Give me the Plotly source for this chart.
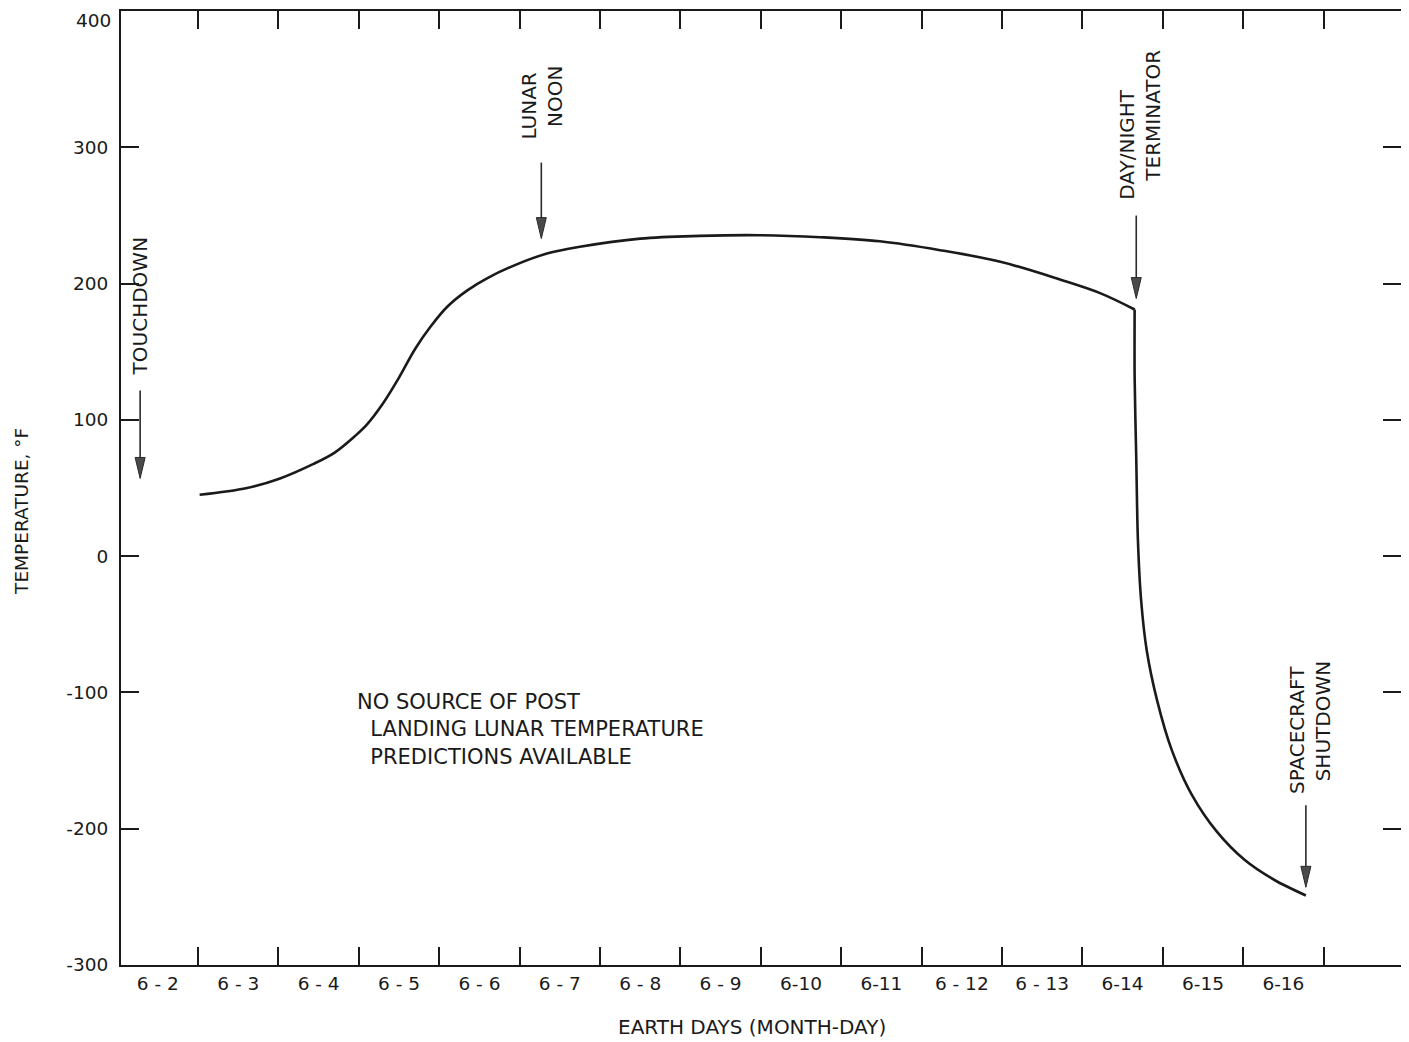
import plotly.graph_objects as go

# ---------------- data ----------------
# x = day of June (label "6-d" spans [d, d+1)), y = temperature in deg F
day_phase_days = [3.02, 3.61, 4.02, 4.43, 4.70, 4.95, 5.10, 5.30, 5.50, 5.70, 5.90, 6.10,
                  6.35, 6.60, 6.92, 7.34, 7.75, 8.50, 9.24, 9.99, 10.74, 11.48, 12.23,
                  12.98, 13.72, 14.22, 14.65]
day_phase_temps = [45, 50, 57, 67.5, 76, 88, 96.5, 112, 131, 152, 169, 183,
                   195, 204, 213, 222, 227, 233, 235, 235.5, 234, 231, 224.5,
                   216, 203, 193, 181]

night_phase_days = [14.65, 14.65, 14.67, 14.69, 14.73, 14.80, 14.93, 15.11, 15.36,
                    15.67, 16.02, 16.40, 16.78]
night_phase_temps = [181, 131, 72, 13, -32, -69, -106, -142, -175,
                     -202, -223, -238, -249]

day_tick_positions = list(range(3, 18))
day_label_positions = [d + 0.5 for d in range(2, 17)]
day_labels = ["6 - 2", "6 - 3", "6 - 4", "6 - 5", "6 - 6", "6 - 7", "6 - 8", "6 - 9",
              "6-10", "6-11", "6 - 12", "6 - 13", "6-14", "6-15", "6-16"]

temp_ticks = [-300, -200, -100, 0, 100, 200, 300, 400]
temp_labels = ["-300", "-200", "-100", "0", "100", "200", "300", "400"]

# event arrows: tip location (day, temp); labels start (bottom) position
event_days = [2.28, 7.27, 14.67, 16.78]
event_tip_temps = [57, 233, 189, -243]
event_labels = ["TOUCHDOWN",
                "LUNAR<br>\u00a0\u00a0NOON",
                "DAY/NIGHT<br>\u00a0\u00a0\u00a0TERMINATOR",
                "SPACECRAFT<br>\u00a0\u00a0SHUTDOWN"]
event_label_days = [2.28, 7.28, 14.72, 16.83]
event_label_bottom_temps = [132, 305, 261, -175]

note_text = ("NO SOURCE OF POST<br>\u00a0\u00a0LANDING LUNAR TEMPERATURE"
             "<br>\u00a0\u00a0PREDICTIONS AVAILABLE")
note_day = 4.95
note_temp = -97

# ---------------- figure ----------------
FONT = "DejaVu Sans"
INK = "#1a1a1a"

fig = go.Figure()
fig.add_trace(go.Scatter(x=day_phase_days, y=day_phase_temps, mode="lines",
                         line=dict(color=INK, width=2.6, shape="spline", smoothing=1.0),
                         showlegend=False, hoverinfo="skip"))
fig.add_trace(go.Scatter(x=night_phase_days, y=night_phase_temps, mode="lines",
                         line=dict(color=INK, width=2.6, shape="spline", smoothing=0.8),
                         showlegend=False, hoverinfo="skip"))
# empty trace so the label axis is drawn
fig.add_trace(go.Scatter(x=[], y=[], xaxis="x2", showlegend=False))

x_range = [2.042, 17.963]
y_range = [temp_ticks[0], temp_ticks[-1]]

# the top label would be clipped at the page edge; it is drawn as an annotation below
y_ticktext = [lab if v != y_range[1] else "" for v, lab in zip(temp_ticks, temp_labels)]

# page has an 8px body margin: figure coords = reference coords - 8
fig.update_layout(
    width=1401, height=1034,
    margin=dict(l=113, r=8, t=3, b=77, autoexpand=False),
    paper_bgcolor="white", plot_bgcolor="white",
    font=dict(family=FONT, color=INK, size=18),
    xaxis=dict(range=x_range, tickmode="array", tickvals=day_tick_positions,
               ticktext=["" for _ in day_tick_positions], automargin=False,
               ticks="inside", ticklen=18, tickwidth=1.6, tickcolor=INK,
               showline=True, linecolor=INK, linewidth=2, mirror="ticks",
               showgrid=False, zeroline=False),
    xaxis2=dict(range=x_range, overlaying="x", anchor="y", side="bottom",
                tickmode="array", tickvals=day_label_positions, ticktext=day_labels,
                ticks="", showline=False, showgrid=False, zeroline=False, automargin=False,
                ticklabelstandoff=5,
                tickfont=dict(size=18.5, family=FONT, color=INK)),
    yaxis=dict(range=y_range, tickmode="array", tickvals=temp_ticks, ticktext=y_ticktext,
               ticks="inside", ticklen=18, tickwidth=1.6, tickcolor=INK, automargin=False,
               showline=True, linecolor=INK, linewidth=2, mirror="ticks",
               showgrid=False, zeroline=False, ticklabelstandoff=7,
               tickfont=dict(size=18.5, family=FONT, color=INK)),
)

# arrows: shaft + narrow filled head, sized in pixels and anchored at the data tip
tail_lengths = [88, 76, 83, 82]
shapes = []
for d, t, L in zip(event_days, event_tip_temps, tail_lengths):
    shapes.append(dict(type="path", xref="x", yref="y",
                       xsizemode="pixel", ysizemode="pixel", xanchor=d, yanchor=t,
                       path=f"M0,{L} L0,18", line=dict(color="#2a2a2a", width=1.6)))
    shapes.append(dict(type="path", xref="x", yref="y",
                       xsizemode="pixel", ysizemode="pixel", xanchor=d, yanchor=t,
                       path="M-5,21 L5,21 L0,0 Z", fillcolor="#4a4a4a",
                       line=dict(color="#2a2a2a", width=1)))
fig.update_layout(shapes=shapes)

annotations = []
for lab, ld, lt in zip(event_labels, event_label_days, event_label_bottom_temps):
    annotations.append(dict(x=ld, y=lt, xref="x", yref="y", text=lab, showarrow=False,
                            textangle=-90, align="left", xanchor="center", yanchor="bottom",
                            borderpad=0,
                            font=dict(size=20, family=FONT, color=INK)))
annotations.append(dict(x=note_day, y=note_temp, xref="x", yref="y", text=note_text,
                        showarrow=False, align="left", xanchor="left", yanchor="top",
                        font=dict(size=21, family=FONT, color=INK)))
annotations.append(dict(x=0, y=y_range[1], xref="paper", yref="y",
                        text=temp_labels[-1], showarrow=False, xanchor="right", yanchor="top",
                        xshift=-9, yshift=2, borderpad=0,
                        font=dict(size=18.5, family=FONT, color=INK)))
annotations.append(dict(x=-0.0773, y=0.475, xref="paper", yref="paper",
                        text="TEMPERATURE, \u00b0F", showarrow=False, textangle=-90,
                        xanchor="center", yanchor="middle",
                        font=dict(size=18.5, family=FONT, color=INK)))
annotations.append(dict(x=0.493, y=-0.065, xref="paper", yref="paper",
                        text="EARTH DAYS (MONTH-DAY)", showarrow=False,
                        xanchor="center", yanchor="middle",
                        font=dict(size=20, family=FONT, color=INK)))
fig.update_layout(annotations=annotations)

fig.write_html("out.html")
